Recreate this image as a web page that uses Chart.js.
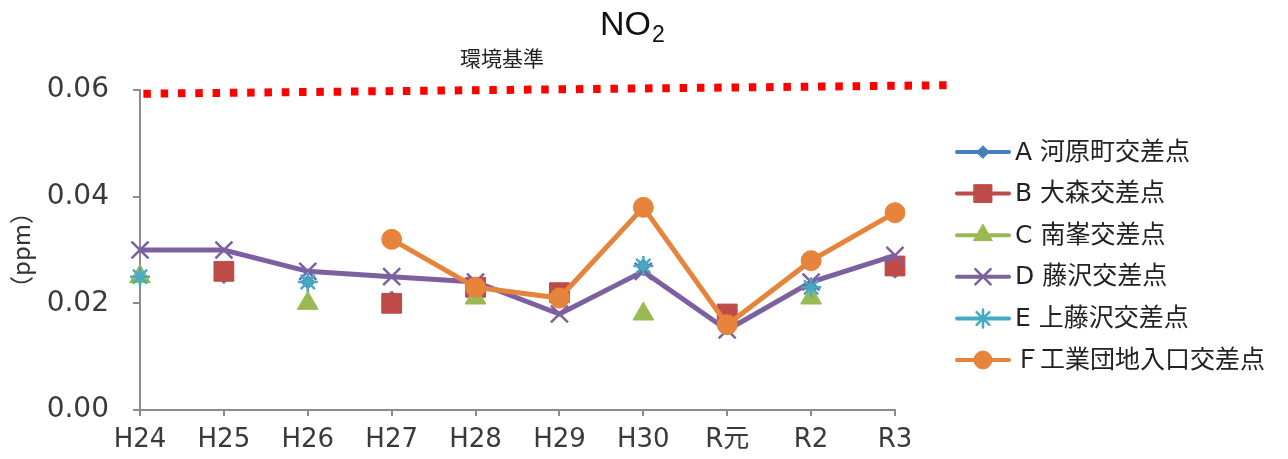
<!DOCTYPE html>
<html lang="ja">
<head>
<meta charset="utf-8">
<title>NO2</title>
<script src="https://cdn.jsdelivr.net/npm/chart.js@4.4.1/dist/chart.umd.min.js"></script>
<style>
    body { margin: 0; background: #fff; }
    #wrap { width: 1288px; height: 459px; position: relative; }
</style>
</head>
<body>
<div id="wrap"><canvas id="no2-chart"></canvas></div>
<script>
const years = ['H24', 'H25', 'H26', 'H27', 'H28', 'H29', 'H30', 'R元', 'R2', 'R3'];
const seriesNames = ['A 河原町交差点', 'B 大森交差点', 'C 南峯交差点', 'D 藤沢交差点', 'E 上藤沢交差点', 'Ｆ工業団地入口交差点'];
const kawaharacho = [0.025, 0.025, 0.024, 0.021, 0.023, 0.021, 0.027, 0.017, 0.023, 0.026];
const omori = [null, 0.026, null, 0.020, 0.023, 0.022, null, 0.018, null, 0.027];
const nanpo = [0.025, null, 0.020, null, 0.021, null, 0.018, null, 0.021, null];
const fujisawa = [0.030, 0.030, 0.026, 0.025, 0.024, 0.018, 0.026, 0.015, 0.024, 0.029];
const kamiFujisawa = [0.025, null, 0.024, null, 0.023, null, 0.027, null, 0.023, null];
const kogyoDanchi = [null, null, null, 0.032, 0.023, 0.021, 0.038, 0.016, 0.028, 0.037];
const yTicks = [0, 0.02, 0.04, 0.06];
// the standard line in the original is hand drawn and slightly tilted
const envStandard = [0.0593, 0.0609];

document.addEventListener('DOMContentLoaded', function() {
    const jpFont = "'DejaVu Sans', 'Noto Sans CJK JP', sans-serif";
    const colors = ['#4A7EBB', '#BE4B48', '#98B954', '#7D60A0', '#46AAC5', '#E5843A'];
    const styles = [
        { pointStyle: 'rectRot', radius: 7, borderWidth: 1, line: false },
        { pointStyle: 'rect', radius: 14, borderWidth: 1, line: false },
        { pointStyle: 'triangle', radius: 12, borderWidth: 1, line: false },
        { pointStyle: 'crossRot', radius: 12, borderWidth: 2.5, line: true },
        { pointStyle: 'star', radius: 10, borderWidth: 2.5, line: false },
        { pointStyle: 'circle', radius: 10, borderWidth: 1, line: true }
    ];
    const values = [kawaharacho, omori, nanpo, fujisawa, kamiFujisawa, kogyoDanchi];

    const datasets = values.map((vals, i) => ({
        label: seriesNames[i],
        data: vals,
        order: 5 - i,
        showLine: styles[i].line,
        spanGaps: false,
        borderColor: colors[i],
        backgroundColor: colors[i],
        borderWidth: 5,
        pointStyle: styles[i].pointStyle,
        pointRadius: styles[i].radius,
        pointHoverRadius: styles[i].radius,
        pointBorderWidth: styles[i].borderWidth,
        pointBorderColor: colors[i],
        pointBackgroundColor: colors[i],
        tension: 0
    }));

    function drawMarker(ctx, i, x, y, scale) {
        const opts = {
            pointStyle: styles[i].pointStyle,
            radius: styles[i].radius * scale,
            rotation: 0,
            borderWidth: styles[i].borderWidth
        };
        ctx.save();
        ctx.fillStyle = colors[i];
        ctx.strokeStyle = colors[i];
        ctx.lineWidth = styles[i].borderWidth;
        Chart.helpers.drawPoint(ctx, opts, x, y);
        ctx.restore();
    }

    const decorations = {
        id: 'decorations',
        afterDatasetsDraw(chart) {
            const ctx = chart.ctx;
            const xs = chart.scales.x;
            const ys = chart.scales.y;

            // 環境基準 dotted line
            ctx.save();
            ctx.strokeStyle = '#FF0000';
            ctx.lineWidth = 8;
            ctx.setLineDash([7.5, 9.8]);
            ctx.beginPath();
            ctx.moveTo(xs.getPixelForValue(0.04), ys.getPixelForValue(envStandard[0]));
            ctx.lineTo(xs.getPixelForValue(9.64), ys.getPixelForValue(envStandard[1]));
            ctx.stroke();
            ctx.restore();
        },
        afterDraw(chart) {
            const ctx = chart.ctx;
            ctx.save();

            // title with subscript
            ctx.fillStyle = '#111';
            ctx.textBaseline = 'alphabetic';
            ctx.textAlign = 'left';
            ctx.font = "34px 'Liberation Sans', sans-serif";
            ctx.fillText('NO', 600, 35);
            const w = ctx.measureText('NO').width;
            ctx.font = "23px 'Liberation Sans', sans-serif";
            ctx.fillText('2', 600 + w + 1, 42);

            ctx.font = "21px 'Noto Sans CJK JP', sans-serif";
            ctx.textBaseline = 'middle';
            ctx.fillStyle = '#222';
            ctx.fillText('環境基準', 460, 58);

            // legend
            const lx = chart.chartArea.right + 62;
            seriesNames.forEach((name, i) => {
                const y = 152 + i * 41.6;
                ctx.strokeStyle = colors[i];
                ctx.lineWidth = 4;
                ctx.lineCap = 'round';
                ctx.beginPath();
                ctx.moveTo(lx, y);
                ctx.lineTo(lx + 52, y);
                ctx.stroke();
                drawMarker(ctx, i, lx + 26, y, 0.9);
                ctx.fillStyle = '#222';
                ctx.font = '25px ' + jpFont;
                ctx.textBaseline = 'middle';
                ctx.fillText(name, lx + 58, y + 1);
            });
            ctx.restore();
        }
    };

    const config = {
        type: 'line',
        data: {
            labels: years,
            datasets: datasets
        },
        options: {
            responsive: true,
            maintainAspectRatio: false,
            animation: false,
            layout: {
                padding: { top: 90, right: 393, bottom: 0, left: 0 }
            },
            plugins: {
                legend: { display: false },
                title: { display: false },
                tooltip: { enabled: false }
            },
            scales: {
                x: {
                    offset: false,
                    border: { display: true, color: '#8C8C8C', width: 2 },
                    grid: { display: true, drawOnChartArea: false, drawTicks: true, tickLength: 6, color: '#8C8C8C', lineWidth: 2 },
                    ticks: {
                        color: '#3a3a3a',
                        padding: 9,
                        maxRotation: 0,
                        autoSkip: false,
                        font: { family: "'DejaVu Sans', 'Noto Sans CJK JP', sans-serif", size: 26 }
                    },
                    afterFit(scale) { scale.height = 49; }
                },
                y: {
                    min: 0,
                    max: 0.06,
                    border: { display: true, color: '#8C8C8C', width: 2 },
                    grid: { display: true, drawOnChartArea: false, drawTicks: true, tickLength: 7, color: '#8C8C8C', lineWidth: 2 },
                    afterBuildTicks(scale) {
                        scale.ticks = yTicks.map(v => ({ value: v }));
                    },
                    ticks: {
                        color: '#3a3a3a',
                        padding: 24,
                        font: { family: "'DejaVu Sans', sans-serif", size: 28 },
                        callback: function(value) { return Number(value).toFixed(2); }
                    },
                    title: {
                        display: true,
                        text: '（ppm）',
                        color: '#333',
                        padding: { top: 6, bottom: 0 },
                        font: { family: "'Noto Sans CJK JP', sans-serif", size: 24 }
                    },
                    afterFit(scale) { scale.width = 140; }
                }
            }
        },
        plugins: [decorations]
    };

    new Chart(document.getElementById('no2-chart'), config);
});
</script>
</body>
</html>
